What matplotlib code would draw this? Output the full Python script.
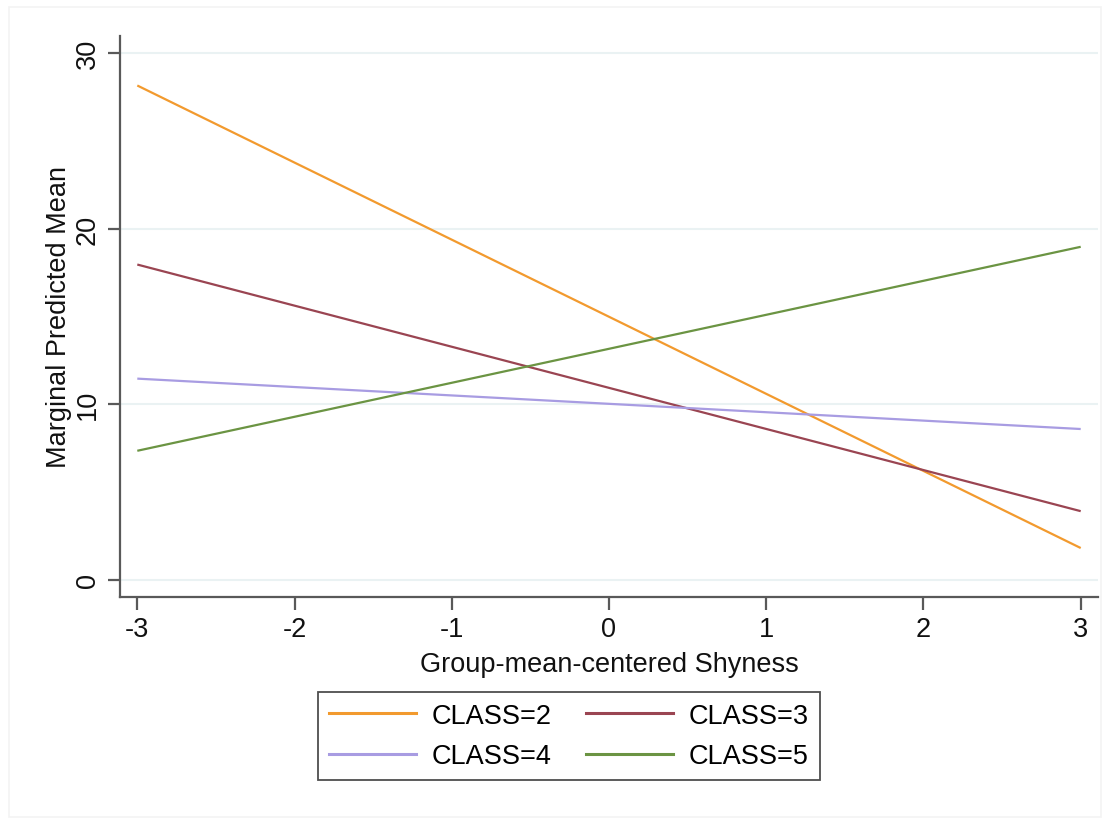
import matplotlib
matplotlib.use('Agg')
import matplotlib.pyplot as plt
from matplotlib.lines import Line2D
from matplotlib.patches import Rectangle

plt.rcParams['font.family'] = ['Liberation Sans', 'DejaVu Sans']

# Predicted means at the ends of the shyness range
shyness = [-3, 3]
classes = ['CLASS=2', 'CLASS=3', 'CLASS=4', 'CLASS=5']
class2 = [28.15, 1.8]
class3 = [17.95, 3.9]
class4 = [11.45, 8.58]
class5 = [7.34, 18.96]
colors = ['#F29A2E', '#9A4552', '#A89CE2', '#6B9443']

xticks = [-3, -2, -1, 0, 1, 2, 3]
yticks = [0, 10, 20, 30]

fig = plt.figure(figsize=(11.12, 8.2), dpi=100)
ax = fig.add_axes([120 / 1112, 1 - 598 / 820, (1098 - 120) / 1112, (598 - 37) / 820])

# faint outer frame of the graph region
fig.patches.append(Rectangle((9 / 1112, 2 / 820), 1092 / 1112, 810 / 820,
                             transform=fig.transFigure, fill=False,
                             edgecolor='#F3F3F3', linewidth=1.2))

for vals, col in zip([class2, class3, class4, class5], colors):
    ax.plot(shyness, vals, color=col, linewidth=1.6, solid_capstyle='butt')

ax.set_xlim(-3.11, 3.11)
ax.set_ylim(-0.99, 30.97)
ax.set_xticks(xticks)
ax.set_xticklabels([str(t) for t in xticks])
ax.set_yticks(yticks)
ax.set_yticklabels([str(t) for t in yticks], rotation=90, va='center')

ax.yaxis.grid(True, color='#EAF2F3', linewidth=1.5)
ax.set_axisbelow(True)

for side in ['top', 'right']:
    ax.spines[side].set_visible(False)
for side in ['left', 'bottom']:
    ax.spines[side].set_color('#595959')
    ax.spines[side].set_linewidth(1.6)

ax.tick_params(axis='both', direction='out', length=9, width=1.6,
               color='#595959', labelsize=19.5, labelcolor='#111111', pad=5)

ax.set_xlabel('Group-mean-centered Shyness', fontsize=19.5, color='#111111', labelpad=6)
ax.set_ylabel('Marginal Predicted Mean', fontsize=19.5, color='#111111', labelpad=2)

# legend fills column-wise, so order entries to read row by row
order = [0, 2, 1, 3]
handles = [Line2D([0], [0], color=colors[i], linewidth=2.2) for i in order]
labels = [classes[i] for i in order]
leg = fig.legend(handles, labels, ncol=2, loc='center',
                 bbox_to_anchor=(569 / 1112, 1 - 737 / 820),
                 fontsize=19.5, frameon=True, fancybox=False, handlelength=3.2,
                 columnspacing=1.25, handletextpad=0.6, borderpad=0.4,
                 labelspacing=0.55, borderaxespad=0)
leg.get_frame().set_edgecolor('#222222')
leg.get_frame().set_linewidth(1.3)

fig.savefig('out.png', dpi=100, facecolor='white')
